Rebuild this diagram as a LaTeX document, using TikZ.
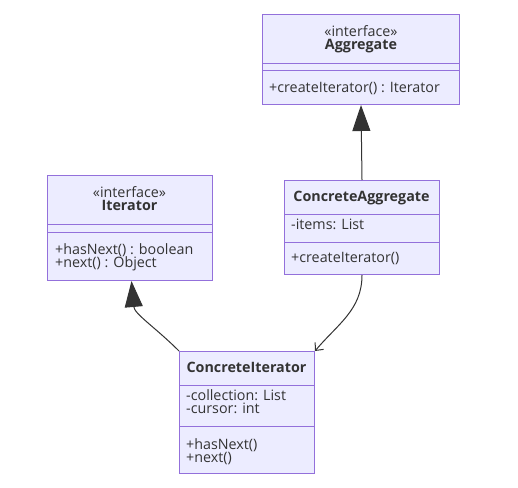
\documentclass[tikz,border=0pt]{standalone}
\usepackage{fontspec}
\setmainfont{Open Sans}
\usetikzlibrary{arrows.meta}
\definecolor{boxfill}{HTML}{ECECFF}
\definecolor{boxline}{HTML}{9370DB}
\definecolor{ink}{HTML}{333333}
\tikzset{
  umlbox/.style={draw=boxline, fill=boxfill, line width=1pt, inner sep=0pt, anchor=north west},
  sep/.style={draw=boxline, line width=1pt},
  lbl/.style={text=ink, inner sep=0pt, anchor=base west, text height=9.5pt, text depth=2pt, font=\fontsize{14.3}{15}\selectfont},
  ctr/.style={lbl, anchor=base},
  ttl/.style={lbl, anchor=base, font=\fontsize{14.3}{15}\selectfont\bfseries},
  inherit/.style={draw=ink, line width=1pt, -{Triangle[width=18pt,length=26pt]}},
  assoc/.style={draw=ink, line width=1pt, -{Straight Barb[length=6pt,width=11pt]}},
}
\begin{document}
\begin{tikzpicture}[x=1pt,y=-1pt]
\useasboundingbox (0,0) rectangle (518,487);
% Aggregate
\node[umlbox, minimum width=197pt, minimum height=90pt] (ag) at (262,14) {};
\draw[sep] (262,63) -- (459,63);
\draw[sep] (262,70) -- (459,70);
\node[ctr] (ags) at (361,36.5) {«interface»};
\node[ttl] (agt) at (361,49.5) {Aggregate};
\node[lbl] (agm) at (269,92.5) {+createIterator() : Iterator};
% Iterator
\node[umlbox, minimum width=165pt, minimum height=105pt] (it) at (47,175) {};
\draw[sep] (47,224) -- (212,224);
\draw[sep] (47,232) -- (212,232);
\node[ctr] (its) at (129.5,197.5) {«interface»};
\node[ttl] (itt) at (129.5,210.5) {Iterator};
\node[lbl] (itm1) at (55,254) {+hasNext() : boolean};
\node[lbl] (itm2) at (55,267.5) {+next() : Object};
% ConcreteAggregate
\node[umlbox, minimum width=155pt, minimum height=94pt] (ca) at (284,180) {};
\draw[sep] (284,214) -- (439,214);
\draw[sep] (284,242) -- (439,242);
\node[ttl] (cat) at (361.5,201.5) {ConcreteAggregate};
\node[lbl] (caa) at (291,229) {-items: List};
\node[lbl] (cam) at (291,262.5) {+createIterator()};
% ConcreteIterator
\node[umlbox, minimum width=135pt, minimum height=122pt] (ci) at (179,351) {};
\draw[sep] (179,385) -- (314,385);
\draw[sep] (179,426) -- (314,426);
\node[ttl] (cit) at (246.5,372.5) {ConcreteIterator};
\node[lbl] (cia1) at (186,400) {-collection: List};
\node[lbl] (cia2) at (186,413) {-cursor: int};
\node[lbl] (cim1) at (186,449) {+hasNext()};
\node[lbl] (cim2) at (186,462) {+next()};
% connectors
\draw[inherit] (ca.north) -- (ag.south);
\draw[inherit] (ci.north west) to[out=135,in=-85] ([xshift=1.5pt]it.south);
\draw[assoc] (ca.south) to[out=-90,in=50] (ci.north east);
\end{tikzpicture}
\end{document}
